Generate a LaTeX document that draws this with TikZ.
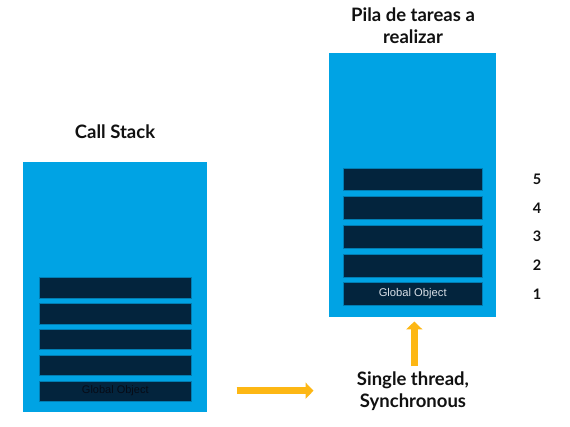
\documentclass[tikz,border=0pt]{standalone}
\usepackage{fontspec}
\setmainfont{Lato}
\newfontfamily\arialf{Liberation Sans}
\usetikzlibrary{arrows.meta}
\definecolor{stackblue}{HTML}{00A3E4}
\definecolor{barnavy}{HTML}{03243D}
\definecolor{arrowgold}{HTML}{FDB714}
\definecolor{titleblack}{HTML}{111111}
\definecolor{darktext}{HTML}{070B16}
\definecolor{lighttext}{HTML}{D8DEE6}
\tikzset{
  panel/.style={fill=stackblue, draw=none, inner sep=0pt},
  barbox/.style={fill=barnavy, draw=stackblue!70!barnavy, line width=0.4pt, inner sep=0pt},
  title/.style={font=\bfseries\fontsize{18.5}{21.5}\selectfont, text=titleblack, align=center, inner sep=0pt},
  numlbl/.style={font=\bfseries\fontsize{14.5}{16}\selectfont, text=titleblack, inner sep=0pt},
  goarrow/.style={draw=arrowgold, line width=7.5pt, -{Triangle[length=8pt,width=16pt]}},
}
\begin{document}
\begin{tikzpicture}[x=1pt,y=-1pt]
\useasboundingbox[fill=white] (0,0) rectangle (570,427);
% left call stack
\node[panel, minimum width=184pt, minimum height=250pt, anchor=north west] (lpanel) at (23,162) {};
\node[title] (ltitle) at (115,132) {Call Stack};
\foreach \i/\y in {1/391,2/365.2,3/339.4,4/313.6,5/287.8}{
  \node[barbox, minimum width=152.5pt, minimum height=20.5pt] (lb\i) at (115.3,\y) {};
}
\node[font=\arialf\fontsize{11}{13}\selectfont, text=darktext] (lglobal) at (lb1) {Global Object};
% right stack
\node[panel, minimum width=167pt, minimum height=264.6pt, anchor=north west] (rpanel) at (329,52.7) {};
\node[title] (rtitle) at (413,25.5) {Pila de tareas a\\realizar};
\foreach \i/\y in {1/294,2/265.4,3/236.7,4/208,5/179.2}{
  \node[barbox, minimum width=138.7pt, minimum height=22.7pt] (rb\i) at (412.7,\y) {};
  \node[numlbl] (n\i) at (537,\y) {\i};
}
\node[font=\arialf\fontsize{11.2}{13}\selectfont, text=lighttext] (rglobal) at (rb1) {Global Object};
% bottom label
\node[title] (single) at (413,391) {Single thread,\\Synchronous};
% arrows
\coordinate (hstart) at (236.5,390.7);
\coordinate (hend) at (313.5,390.7);
\draw[goarrow] (hstart) -- (hend);
\coordinate (vstart) at (414.3,366);
\coordinate (vend) at (414.3,321.5);
\draw[goarrow] (vstart) -- (vend);
\end{tikzpicture}
\end{document}
